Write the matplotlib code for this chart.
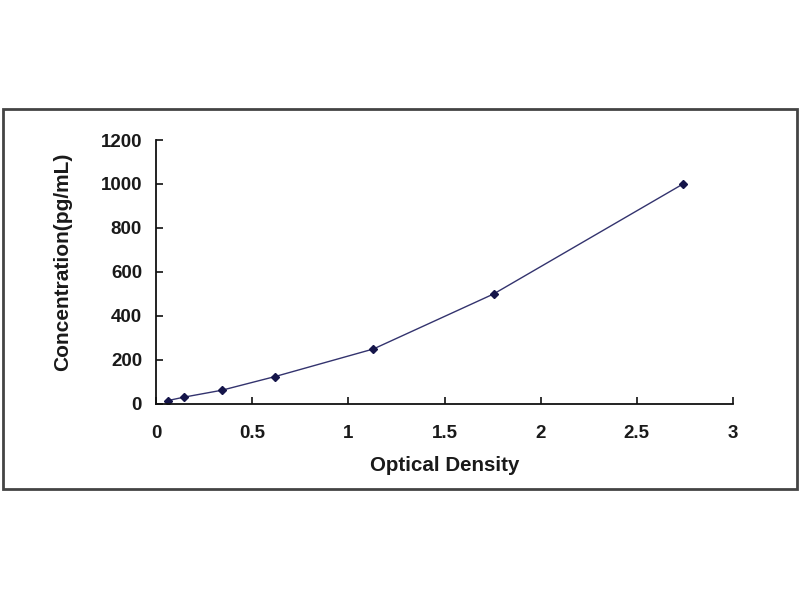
import matplotlib.pyplot as plt
from matplotlib.patches import Rectangle

# standard curve readings
optical_density = [0.062, 0.146, 0.342, 0.620, 1.130, 1.755, 2.740]
concentration = [15.6, 31.25, 62.5, 125, 250, 500, 1000]

x_ticks = [0, 0.5, 1, 1.5, 2, 2.5, 3]
x_tick_labels = ['0', '0.5', '1', '1.5', '2', '2.5', '3']
y_ticks = [0, 200, 400, 600, 800, 1000, 1200]

plt.rcParams['font.family'] = ['Liberation Sans', 'DejaVu Sans']

fig = plt.figure(figsize=(8, 6), dpi=100)
fig.patch.set_facecolor('white')

# outer frame like the chart area border
frame = Rectangle((3/800, 111/600), 794/800, 380/600, transform=fig.transFigure,
                  fill=False, edgecolor='#444444', linewidth=2)
fig.patches.append(frame)

ax = fig.add_axes([156/800, 196/600, 577/800, 264/600])
ax.plot(optical_density, concentration, color='#33336e', linewidth=1,
        marker='D', markersize=4, markerfacecolor='#15154a', markeredgecolor='#15154a')

ax.set_xlim(0, 3)
ax.set_ylim(0, 1200)
ax.set_xticks(x_ticks)
ax.set_xticklabels(x_tick_labels)
ax.set_yticks(y_ticks)

for side in ['top', 'right']:
    ax.spines[side].set_visible(False)
for side in ['left', 'bottom']:
    ax.spines[side].set_linewidth(1.3)
    ax.spines[side].set_color('#111111')

ax.tick_params(direction='in', length=5, width=1.2, colors='#111111', labelsize=13.5)
ax.tick_params(axis='x', pad=15)
ax.tick_params(axis='y', pad=10)
for lbl in ax.get_xticklabels() + ax.get_yticklabels():
    lbl.set_fontweight('bold')
    lbl.set_color('#1a1a1a')

ax.set_xlabel('Optical Density', fontsize=14.8, fontweight='bold', color='#1a1a1a', labelpad=10)
ax.set_ylabel('Concentration(pg/mL)', fontsize=15, fontweight='bold', color='#1a1a1a')
ax.yaxis.set_label_coords(-0.146, 0.538)

fig.savefig('out.png', dpi=100, facecolor='white')
